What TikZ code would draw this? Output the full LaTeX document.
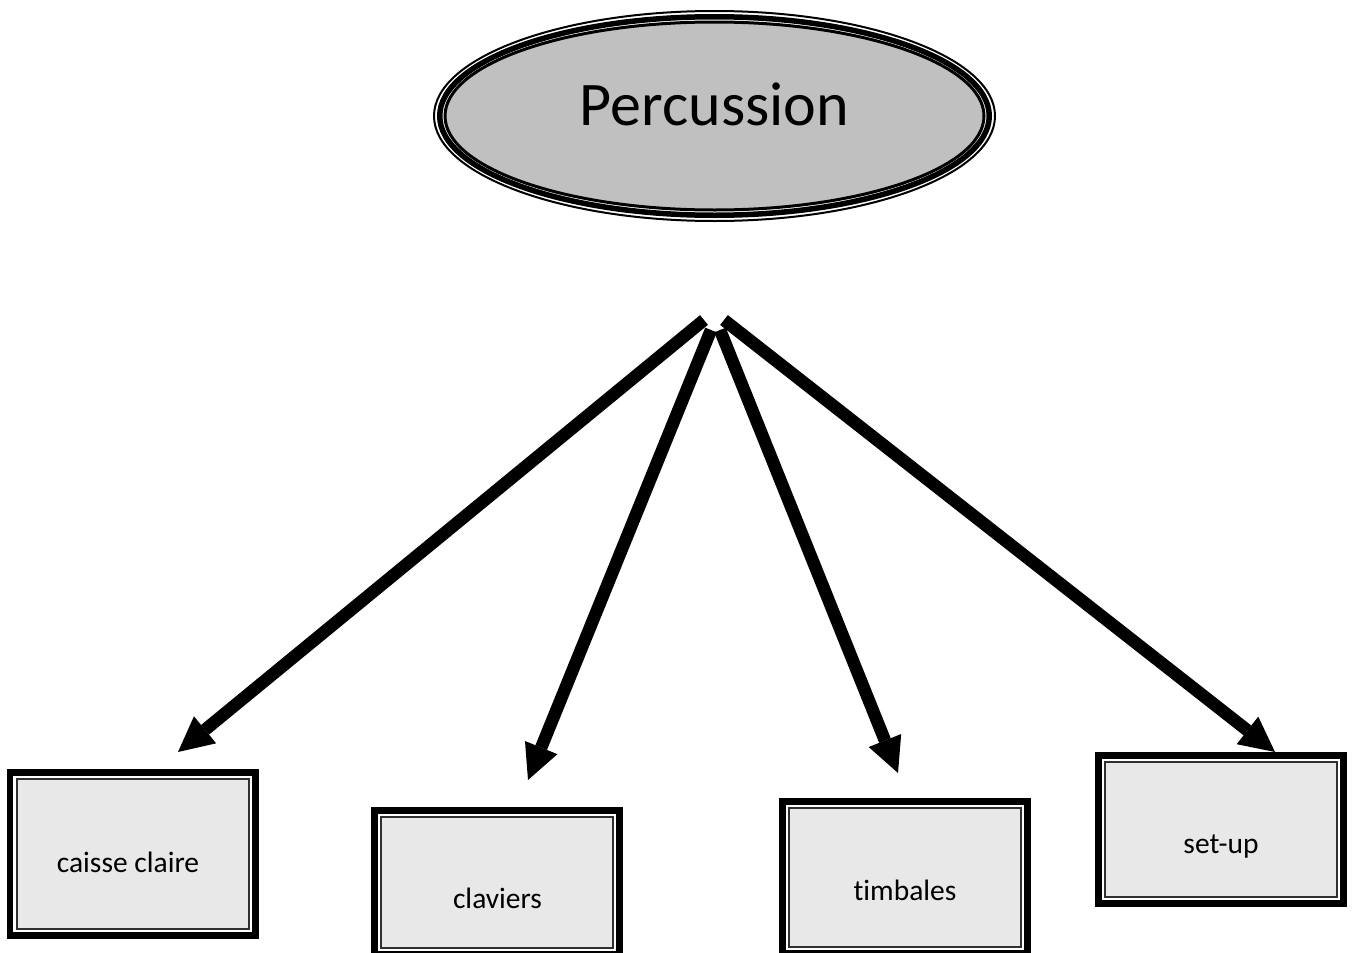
\documentclass[tikz,border=0pt]{standalone}
\usepackage{fontspec}
\setmainfont{Carlito}[Ligatures=NoCommon]
\usetikzlibrary{arrows.meta,shapes.geometric}
\definecolor{ellfill}{HTML}{C0C0C0}
\definecolor{boxfill}{HTML}{E8E8E8}
\definecolor{boxline}{HTML}{303030}
\begin{document}
\begin{tikzpicture}[x=1pt,y=-1pt,
  boxnode/.style={rectangle, draw=black, line width=6.7pt, fill=white,
    inner sep=0pt, outer sep=0pt, minimum width=245.3pt,
    path picture={\draw[line width=2pt, draw=boxline, fill=boxfill]
      ([shift={(6.65pt,-6.65pt)}]path picture bounding box.north west) rectangle
      ([shift={(-6.65pt,6.65pt)}]path picture bounding box.south east);}},
  lab/.style={font=\fontsize{29.5}{34}\selectfont, anchor=base, inner sep=0pt},
  conn/.style={line width=12.5pt, line cap=butt,
    -{Triangle[length=35pt,width=35pt,line width=0pt]}},
  title/.style={ellipse, draw=black, line width=3pt, fill=ellfill,
    minimum width=539pt, minimum height=188pt, inner sep=0pt,
    text height=40pt, text depth=22pt, font=\fontsize{62}{70}\selectfont}]
\useasboundingbox (0,0) rectangle (1355,953);
\clip (0,0) rectangle (1355,953);
\fill[white] (0,0) rectangle (1355,953);

% title ellipse
\node[title] (pe) at (714.5,116) {Percussion};
\draw[line width=5.5pt] (pe.center) ellipse [x radius=274.75, y radius=99.25];
\draw[line width=2pt] (pe.center) ellipse [x radius=280.5, y radius=105];

% boxes
\node[boxnode, minimum height=163.3pt] (b1) at (132.5,854) {};
\node[boxnode, minimum height=144.3pt] (b2) at (497,882.5) {};
\node[boxnode, minimum height=152.3pt] (b3) at (905,877.5) {};
\node[boxnode, minimum height=148.3pt] (b4) at (1221,829.5) {};

% labels
\node[lab] (l1) at (128,872) {caisse claire};
\node[lab] (l2) at (497.5,908) {claviers};
\node[lab] (l3) at (905,900) {timbales};
\node[lab] (l4) at (1221,853) {set-up};

% connectors
\coordinate (s1) at (704,320);
\coordinate (s2) at (711,330);
\coordinate (s3) at (720,330);
\coordinate (s4) at (724,320);
\coordinate (t1) at (178,752);
\coordinate (t2) at (528,780);
\coordinate (t3) at (898,773);
\coordinate (t4) at (1275,752);
\draw[conn] (s1) -- (t1);
\draw[conn] (s2) -- (t2);
\draw[conn] (s3) -- (t3);
\draw[conn] (s4) -- (t4);
\end{tikzpicture}
\end{document}
